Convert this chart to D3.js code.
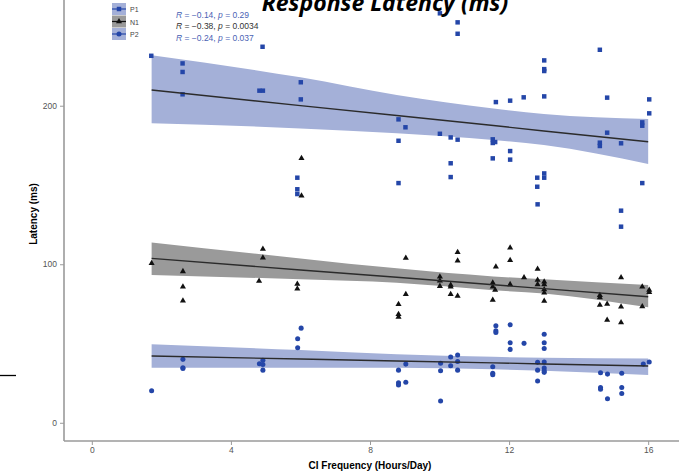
<!DOCTYPE html>
<html>
<head>
<meta charset="utf-8">
<script src="https://cdn.jsdelivr.net/npm/d3@7"></script>
<style>
  body { margin: 0; background: #fff; }
  svg { display: block; }
</style>
</head>
<body>
<svg id="chart" width="679" height="476"></svg>
<script>
// points: [hours/day, latency ms]
var p1Points = [
  [1.71,231.5],[2.61,226.7],[2.61,221.3],[2.61,207.2],[4.91,237.2],[4.82,209.5],[4.92,209.5],
  [6.01,214.8],[6.01,204],[5.91,154.6],[5.91,147.3],[5.91,144.3],[8.82,191.4],[8.82,177.9],
  [8.82,151.2],[9.02,186.4],[10.01,258.3],[10.01,182.3],[10.52,252.6],[10.52,245.4],[10.52,178.6],
  [10.32,180],[10.32,163.7],[10.32,155],[11.53,178.8],[11.6,177.1],[11.53,176.5],[11.53,166.8],
  [11.62,202.3],[12.03,203.2],[12.03,171.4],[12.03,166],[12.42,205.3],[13.01,228.6],[13.01,223.1],
  [13.01,221.9],[13.01,205.9],[13.01,157.3],[13.01,154.6],[12.81,154.6],[12.81,148.9],[12.82,137.8],
  [14.61,235.3],[14.61,176.7],[14.61,174.6],[14.82,205.1],[14.82,183],[15.22,176.3],[15.22,133.8],
  [15.22,123.7],[15.83,189.5],[15.83,187.4],[15.83,151.2],[16.03,204],[16.03,195.2]
];
var n1Points = [
  [1.72,100.6],[2.62,95.5],[2.62,85.8],[2.62,77],[4.92,109.6],[4.92,104.1],[4.81,89.4],
  [6.03,166.8],[6.03,143.2],[5.91,87.5],[5.91,84.6],[8.82,74.7],[8.82,68.4],[8.82,66.7],
  [9.03,103.9],[9.03,81],[10.01,92.1],[10.01,89.6],[10.01,86.2],[10.32,86.9],[10.32,85.8],
  [10.32,81],[10.52,107.5],[10.52,102.2],[10.52,79.9],[11.53,88.3],[11.53,85.8],[11.6,83.7],
  [11.53,77.4],[11.62,98.4],[12.03,110.4],[12.03,102.5],[12.03,87.3],[12.43,91.7],[12.82,97],
  [12.82,90],[12.82,87.3],[13.01,89],[13.01,87.3],[13.01,84],[13.01,82],[13.01,76.8],
  [14.61,80.4],[14.61,79.1],[14.61,74.3],[14.82,74.9],[14.82,64.8],[15.22,91.7],[15.22,73.2],
  [15.22,63.3],[15.83,85.8],[15.83,73.4],[16.03,83.7],[16.03,82.4]
];
var p2Points = [
  [1.72,20.2],[2.62,40],[2.62,34.7],[2.62,34.2],[4.82,37.2],[4.92,39.4],[4.92,36.8],[4.92,33.2],
  [6.02,59.7],[5.92,53],[5.92,47.3],[8.82,33.2],[8.82,25.2],[8.82,23.8],[9.03,37],[9.03,25.5],
  [10.03,37.5],[10.03,32.8],[10.03,13.7],[10.32,41.5],[10.32,36],[10.52,42.7],[10.52,38.7],
  [10.52,33.2],[11.53,35.3],[11.53,31.2],[11.53,30.3],[11.62,61.2],[11.62,58],[11.62,57],
  [12.03,61.8],[12.03,50.5],[12.03,46.3],[12.43,50.1],[12.82,38.1],[12.82,33.2],[12.82,26.3],
  [13.01,55.8],[13.01,50.5],[13.01,46.9],[13.01,38.3],[13.01,34.5],[13.01,32.8],[13.01,31.8],
  [14.63,31.5],[14.63,22.3],[14.63,21.1],[14.83,30.7],[14.83,15.1],[15.24,31.2],[15.24,22.3],
  [15.24,18.5],[15.86,37],[16.03,38.3]
];

// fitted line and confidence band, read at these x positions
var fitX = [1.72, 6.0, 8.77, 11.55, 13.0, 16.0];
var p1Fit = [209.9, 200.1, 193.8, 187.5, 184.1, 177.3];
var p1Lo  = [188.9, 185.7, 182.6, 178.4, 175.2, 163.2];
var p1Hi  = [231.8, 217.9, 206.8, 198.3, 194.8, 191.6];
var n1Fit = [103.7, 96.4, 91.8, 87.1, 84.6, 79.5];
var n1Lo  = [93.2, 90.5, 88.3, 83.6, 81.6, 72.8];
var n1Hi  = [113.8, 103.7, 97.4, 92.3, 90.5, 86.9];
var p2Fit = [42.1, 40.2, 39.0, 37.8, 37.1, 35.8];
var p2Lo  = [34.7, 34.7, 34.7, 33.7, 32.8, 30.1];
var p2Hi  = [49.5, 45.9, 43.3, 41.6, 41.0, 40.6];

var groups = ['P1', 'N1', 'P2'];
var statLabels = ['R = \u22120.14, p = 0.29', 'R = \u22120.38, p = 0.0034', 'R = \u22120.24, p = 0.037'];
var xTicks = [0, 4, 8, 12, 16];
var yTicks = [0, 100, 200];

var svg = d3.select('#chart');

var x = d3.scaleLinear().domain([-0.8, 16.8]).range([64, 676]);
var y = d3.scaleLinear().domain([-11.5, 266.7]).range([441, 0]);

var blue = '#2446a8';
var series = [
  { pts: p1Points, fit: p1Fit, lo: p1Lo, hi: p1Hi, color: blue, band: '#a4b0d8', shape: d3.symbolSquare, size: 20 },
  { pts: n1Points, fit: n1Fit, lo: n1Lo, hi: n1Hi, color: '#111', band: '#9a9a9a', shape: d3.symbolTriangle, size: 16 },
  { pts: p2Points, fit: p2Fit, lo: p2Lo, hi: p2Hi, color: blue, band: '#a4b0d8', shape: d3.symbolCircle, size: 20 }
];

// bands first
series.forEach(function(s) {
  var rows = fitX.map(function(v, i) { return { x: v, lo: s.lo[i], hi: s.hi[i] }; });
  svg.append('path')
    .datum(rows)
    .attr('d', d3.area()
      .x(function(d) { return x(d.x); })
      .y0(function(d) { return y(d.lo); })
      .y1(function(d) { return y(d.hi); })
      .curve(d3.curveMonotoneX))
    .style('fill', s.band);
});

// points
series.forEach(function(s) {
  svg.append('g').selectAll('path')
    .data(s.pts)
    .enter()
    .append('path')
    .attr('d', d3.symbol().type(s.shape).size(s.size))
    .attr('transform', function(d) { return 'translate(' + x(d[0]) + ',' + y(d[1]) + ')'; })
    .style('fill', s.color);
});

// fit lines
series.forEach(function(s) {
  var rows = fitX.map(function(v, i) { return [v, s.fit[i]]; });
  svg.append('path')
    .datum(rows)
    .attr('d', d3.line()
      .x(function(d) { return x(d[0]); })
      .y(function(d) { return y(d[1]); }))
    .style('fill', 'none')
    .style('stroke', '#2b2b2b')
    .style('stroke-width', 1.4);
});

// axes
var xAxis = svg.append('g')
  .attr('transform', 'translate(0,441)')
  .call(d3.axisBottom(x).tickValues(xTicks).tickSize(4).tickPadding(2));
var yAxis = svg.append('g')
  .attr('transform', 'translate(64,0)')
  .call(d3.axisLeft(y).tickValues(yTicks).tickSize(4).tickPadding(3));
[xAxis, yAxis].forEach(function(a) {
  a.select('.domain').style('stroke', '#9a9a9a').style('stroke-width', 1.6);
  a.selectAll('.tick line').style('stroke', '#9a9a9a');
  a.selectAll('.tick text')
    .style('font-family', 'Liberation Sans, Arial, sans-serif')
    .style('font-size', '8.5px')
    .style('fill', '#555');
});
xAxis.select('.domain').attr('d', 'M' + x.range()[0] + ',0H679');
yAxis.select('.domain').attr('d', 'M0,' + y.range()[0] + 'V0');

svg.append('text')
  .attr('x', 370).attr('y', 469)
  .attr('text-anchor', 'middle')
  .style('font-family', 'Liberation Sans, Arial, sans-serif')
  .style('font-weight', 'bold')
  .style('font-size', '10px')
  .text('CI Frequency (Hours/Day)');

svg.append('text')
  .attr('transform', 'translate(37,214) rotate(-90)')
  .attr('text-anchor', 'middle')
  .style('font-family', 'Liberation Sans, Arial, sans-serif')
  .style('font-weight', 'bold')
  .style('font-size', '10px')
  .text('Latency (ms)');

// title, cut at the top edge as in the source
svg.append('text')
  .attr('x', 385).attr('y', 11)
  .attr('text-anchor', 'middle')
  .style('font-family', 'Open Sans, sans-serif')
  .style('font-weight', 'bold')
  .style('font-style', 'italic')
  .style('font-size', '23px')
  .text('Response Latency (ms)');

// stray rule on the left
svg.append('line')
  .attr('x1', 0).attr('x2', 16)
  .attr('y1', 375.5).attr('y2', 375.5)
  .style('stroke', '#000')
  .style('stroke-width', 1.3);

// legend
var legend = svg.append('g').attr('transform', 'translate(112,3)');
series.forEach(function(s, i) {
  var row = legend.append('g').attr('transform', 'translate(0,' + (i * 12.5) + ')');
  row.append('rect')
    .attr('width', 14).attr('height', 12)
    .style('fill', s.band);
  row.append('line')
    .attr('x1', 0).attr('x2', 14)
    .attr('y1', 6).attr('y2', 6)
    .style('stroke', s.color)
    .style('stroke-width', 1.2);
  row.append('path')
    .attr('d', d3.symbol().type(s.shape).size(s.size))
    .attr('transform', 'translate(7,6)')
    .style('fill', s.color);
  row.append('text')
    .attr('x', 18).attr('y', 9)
    .style('font-family', 'Liberation Sans, Arial, sans-serif')
    .style('font-size', '7px')
    .style('fill', '#444')
    .text(groups[i]);
});

// correlation labels
statLabels.forEach(function(lbl, i) {
  var parts = lbl.split(/(R|p)(?= =)/);
  var t = svg.append('text')
    .attr('x', 176).attr('y', 17.5 + i * 11.8)
    .style('font-family', 'Liberation Sans, Arial, sans-serif')
    .style('font-size', '8.5px')
    .style('fill', i === 1 ? '#333' : '#4a62b4');
  parts.forEach(function(p) {
    if (p === '') return;
    t.append('tspan')
      .style('font-style', (p === 'R' || p === 'p') ? 'italic' : 'normal')
      .text(p);
  });
});
</script>
</body>
</html>
